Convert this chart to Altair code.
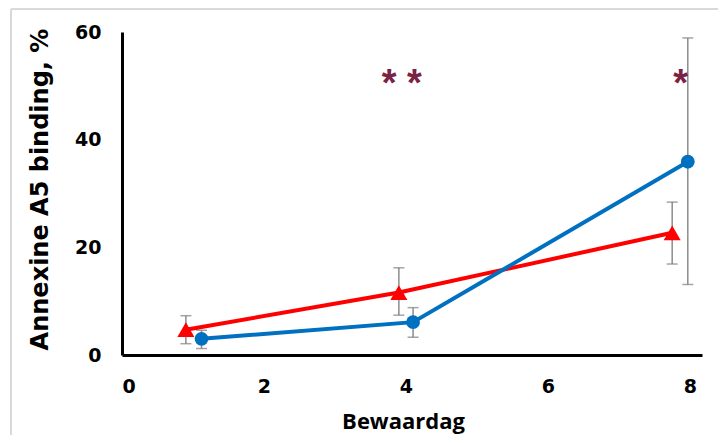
import altair as alt
import pandas as pd

# --- data ---
red_day = [0.9, 3.9, 7.75]
red_val = [4.7, 11.6, 22.7]
red_lo = [2.1, 7.4, 16.9]
red_hi = [7.3, 16.2, 28.4]

blue_day = [1.12, 4.1, 7.97]
blue_val = [3.0, 6.1, 35.9]
blue_lo = [1.2, 3.3, 13.1]
blue_hi = [4.6, 8.8, 58.9]

sig_day = [3.94, 7.87]
sig_val = [48.2, 48.2]
sig_text = ["* *", "*"]

x_ticks = [0, 2, 4, 6, 8]
y_ticks = [0, 20, 40, 60]

rows = []
for d, v, lo, hi in zip(red_day, red_val, red_lo, red_hi):
    rows.append({"serie": "A", "dag": d, "waarde": v, "lo": lo, "hi": hi})
for d, v, lo, hi in zip(blue_day, blue_val, blue_lo, blue_hi):
    rows.append({"serie": "B", "dag": d, "waarde": v, "lo": lo, "hi": hi})
df = pd.DataFrame(rows)
sig = pd.DataFrame({"dag": sig_day, "waarde": sig_val, "txt": sig_text})

W, H = 580, 323
xscale = alt.Scale(domain=[0, 8.17], nice=False, zero=False)
yscale = alt.Scale(domain=[0, 60], nice=False)
color = alt.Scale(domain=["A", "B"], range=["#FF0000", "#0070C0"])
shape = alt.Scale(domain=["A", "B"], range=["triangle-up", "circle"])

xaxis = alt.Axis(values=x_ticks, format="d", title="Bewaardag", labelFont="DejaVu Sans",
                 labelFontSize=19, labelFontWeight="bold", labelColor="#000000",
                 labelPadding=22, ticks=False, grid=False, domainColor="#000000",
                 domainWidth=3, titleFont="Open Sans", titleFontSize=22, titleFontWeight="bold",
                 titleColor="#000000", titleX=281, titleY=66, titleBaseline="middle")
yaxis = alt.Axis(values=y_ticks, format="d", title="Annexine A5 binding, %", labelFont="DejaVu Sans",
                 labelFontSize=19, labelFontWeight="bold", labelColor="#000000",
                 labelPadding=21, ticks=False, grid=False, domainColor="#000000",
                 domainWidth=3, titleFont="DejaVu Sans", titleFontSize=24,
                 titleFontWeight="bold", titleColor="#000000", titleX=-82, titleY=157,
                 titleBaseline="middle")

base = alt.Chart(df)

err = base.mark_rule(color="#8C8C8C", strokeWidth=1.5).encode(
    x=alt.X("dag:Q", scale=xscale, axis=xaxis),
    y=alt.Y("lo:Q", scale=yscale, axis=yaxis),
    y2="hi:Q",
)
cap_lo = base.mark_tick(color="#7F7F7F", orient="horizontal", size=11, thickness=1.5).encode(
    x=alt.X("dag:Q", scale=xscale), y=alt.Y("lo:Q", scale=yscale))
cap_hi = base.mark_tick(color="#7F7F7F", orient="horizontal", size=11, thickness=1.5).encode(
    x=alt.X("dag:Q", scale=xscale), y=alt.Y("hi:Q", scale=yscale))

lines = base.mark_line(strokeWidth=4).encode(
    x=alt.X("dag:Q", scale=xscale),
    y=alt.Y("waarde:Q", scale=yscale),
    color=alt.Color("serie:N", scale=color, legend=None),
    detail="serie:N",
)
points = base.mark_point(filled=True, opacity=1).encode(
    x=alt.X("dag:Q", scale=xscale),
    y=alt.Y("waarde:Q", scale=yscale),
    color=alt.Color("serie:N", scale=color, legend=None),
    shape=alt.Shape("serie:N", scale=shape, legend=None),
    size=alt.Size("serie:N", scale=alt.Scale(domain=["A", "B"], range=[290, 190]), legend=None),
)

stars = alt.Chart(sig).mark_text(font="Liberation Sans", fontSize=38, fontWeight="bold",
                                 color="#7B2344", baseline="alphabetic", align="center").encode(
    x=alt.X("dag:Q", scale=xscale),
    y=alt.Y("waarde:Q", scale=yscale),
    text="txt:N",
)

border_top = alt.Chart(df).mark_rule(color="#D9D9D9", strokeWidth=2).encode(
    x=alt.value(-111), x2=alt.value(W + 40), y=alt.value(-23))
border_left = alt.Chart(df).mark_rule(color="#D9D9D9", strokeWidth=2).encode(
    x=alt.value(-111), y=alt.value(-23), y2=alt.value(H + 90))

chart = alt.layer(border_top, border_left, err, cap_lo, cap_hi, lines, points, stars).properties(
    width=W, height=H,
    autosize=alt.AutoSizeParams(type="none"),
    padding={"left": 114, "top": 24, "right": 16, "bottom": 80},
    background="#FFFFFF",
).configure_view(stroke=None)

chart.save("out.html", embed_options={"renderer": "svg", "actions": False})
